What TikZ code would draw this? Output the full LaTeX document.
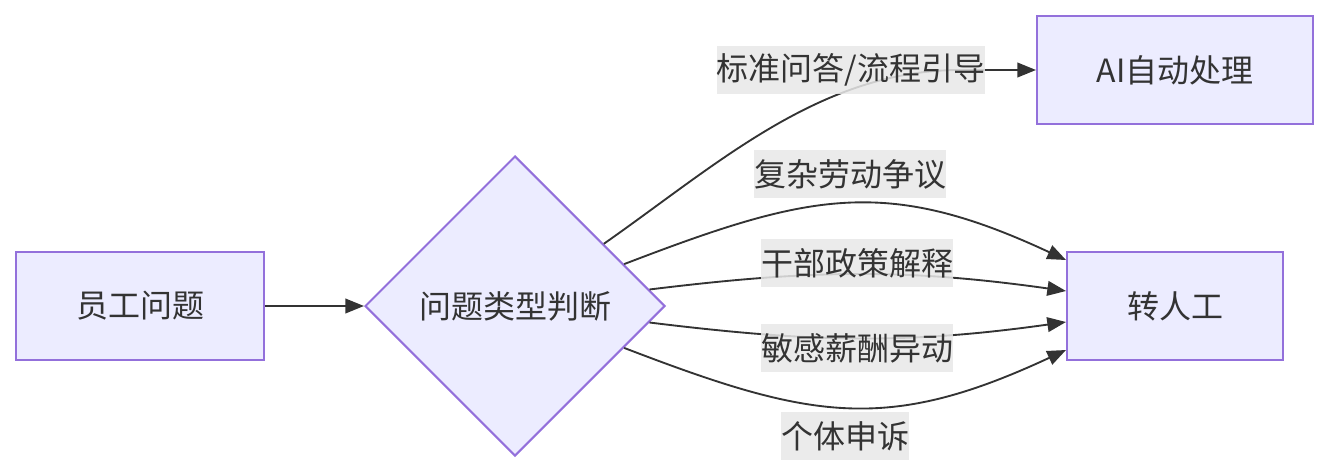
\documentclass[tikz,border=0pt]{standalone}
\usepackage{fontspec}
\setmainfont{Noto Sans CJK SC}
\usepackage{xcolor}
\usetikzlibrary{arrows.meta,shapes.geometric}
\definecolor{nodefill}{HTML}{ECECFF}
\definecolor{nodeline}{HTML}{9370DB}
\definecolor{ink}{HTML}{333333}
\definecolor{lblgray}{HTML}{E8E8E8}

\begin{document}
\begin{tikzpicture}[x=0.75pt, y=-0.75pt,
font=\fontsize{24pt}{28pt}\selectfont, text=ink,
box/.style={draw=nodeline, fill=nodefill, line width=1.5pt, minimum height=81pt, inner sep=0pt},
decision/.style={diamond, aspect=1, draw=nodeline, fill=nodefill, line width=1.5pt, minimum width=225pt, minimum height=225pt, inner sep=0pt},
lbl/.style={fill=lblgray, fill opacity=0.85, text opacity=1, inner xsep=0pt, inner ysep=0pt, minimum height=36pt},
flow/.style={-{Triangle[length=14pt,width=11pt]}, draw=ink, line width=1.4pt}
]
\useasboundingbox (0,0) rectangle (1328,475);
\node[box, minimum width=186pt] (emp) at (140,306) {员工问题};
\node[decision] (judge) at (515,306) {问题类型判断};
\node[box, minimum width=207pt] (ai) at (1175,70) {AI自动处理};
\node[box, minimum width=162pt] (human) at (1175,306) {转人工};
\coordinate (aiBend) at (960,70);
% edges
\draw[flow] (emp) -- (judge);
\draw[flow] (judge.35) to[out=35, in=180, looseness=0.9] (aiBend) -- (ai);
\draw[flow] (judge.21) to[out=21, in=155, looseness=1.15] ([yshift=34.5pt]human.west);
\draw[flow] (judge.7) to[out=7, in=172] ([yshift=11.25pt]human.west);
\draw[flow] (judge.-7) to[out=-7, in=188] ([yshift=-12pt]human.west);
\draw[flow] (judge.-21) to[out=-21, in=205, looseness=1.15] ([yshift=-33pt]human.west);
% edge labels
\node[lbl] (lStd) at (851,70) {标准问答/流程引导};
\node[lbl] (lDispute) at (850,174) {复杂劳动争议};
\node[lbl] (lPolicy) at (857,263) {干部政策解释};
\node[lbl] (lPay) at (857,348) {敏感薪酬异动};
\node[lbl] (lAppeal) at (845,436) {个体申诉};
\end{tikzpicture}
\end{document}
